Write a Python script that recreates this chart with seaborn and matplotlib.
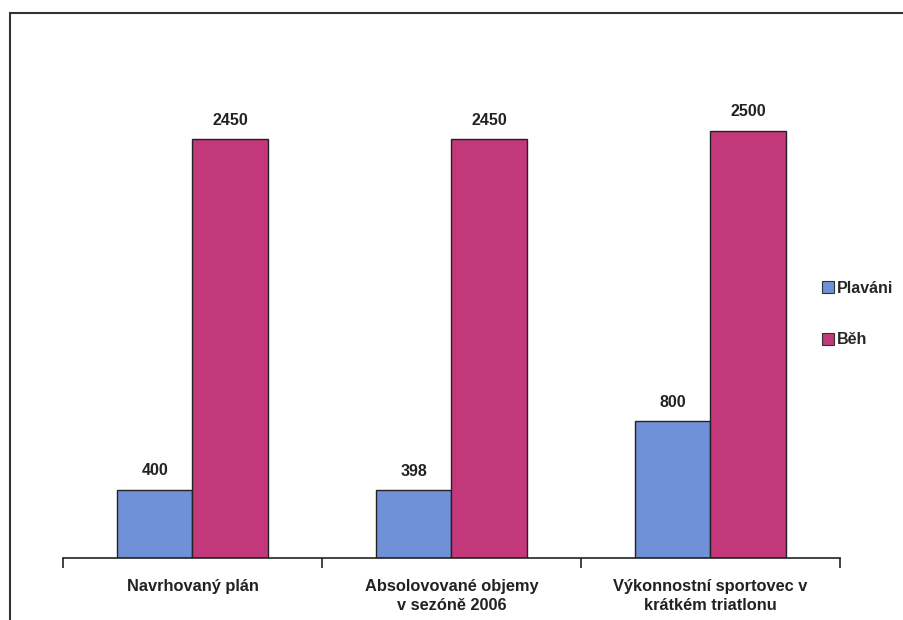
import matplotlib
matplotlib.use("Agg")
import matplotlib.pyplot as plt
import seaborn as sns
import pandas as pd
from matplotlib.lines import Line2D

categories = ["Navrhovaný plán", "Absolovované objemy\nv sezóně 2006", "Výkonnostní sportovec v\nkrátkém triatlonu"]
series_names = ["Plaváni", "Běh"]
plavani = [400, 398, 800]
beh = [2450, 2450, 2500]
colors = ["#7090d8", "#c2387a"]

sns.set_theme(style="white")
plt.rcParams['font.family'] = ['Liberation Sans', 'DejaVu Sans']

df = pd.DataFrame({
    "cat": categories * 2,
    "series": [series_names[0]] * 3 + [series_names[1]] * 3,
    "value": plavani + beh,
})

fig = plt.figure(figsize=(9.04, 6.2), dpi=100)
ax = fig.add_axes([63 / 904, 62 / 620, (840 - 63) / 904, (558 - 45) / 620])
sns.barplot(data=df, x="cat", y="value", hue="series", palette=colors,
            width=0.58, edgecolor="#222222", linewidth=1.0, ax=ax,
            saturation=1, legend=False)
ax.set_ylim(0, 3000)
ax.set_xlim(-0.5, 2.5)
for c in ax.containers:
    ax.bar_label(c, labels=[f"{v:.0f}" for v in c.datavalues], padding=8,
                 fontsize=11.5, fontweight="bold", color="#222222")
for s in ["top", "right", "left"]:
    ax.spines[s].set_visible(False)
ax.spines["bottom"].set_color("#222222")
ax.spines["bottom"].set_linewidth(1.2)
ax.set_yticks([])
ax.set_xticks([-0.5, 0.5, 1.5, 2.5], minor=False)
ax.set_xticklabels([])
ax.tick_params(axis="x", which="major", bottom=True, length=7, width=1.2,
               color="#222222", direction="out")
for i, lab in enumerate(categories):
    ax.text(i, -0.04, lab, transform=ax.get_xaxis_transform(), ha="center",
            va="top", fontsize=11.8, fontweight="bold", color="#222222",
            linespacing=1.35)
ax.set_xlabel("")
ax.set_ylabel("")

handles = [Line2D([0], [0], marker="s", linestyle="", markersize=8,
                  markerfacecolor=c, markeredgecolor="#333333", markeredgewidth=0.8)
           for c in colors]
fig.legend(handles, series_names, loc="center left", bbox_to_anchor=(807 / 904, 1 - 314 / 620),
           frameon=False, handlelength=0.8, handletextpad=0.2, labelspacing=2.3,
           prop={"weight": "bold", "size": 11.5})

fig.add_artist(Line2D([10 / 904, 10 / 904], [0, 1 - 13 / 620], color="#333333", linewidth=1.5))
fig.add_artist(Line2D([10 / 904, 1], [1 - 13 / 620, 1 - 13 / 620], color="#333333", linewidth=1.5))

fig.savefig("out.png", dpi=100)
